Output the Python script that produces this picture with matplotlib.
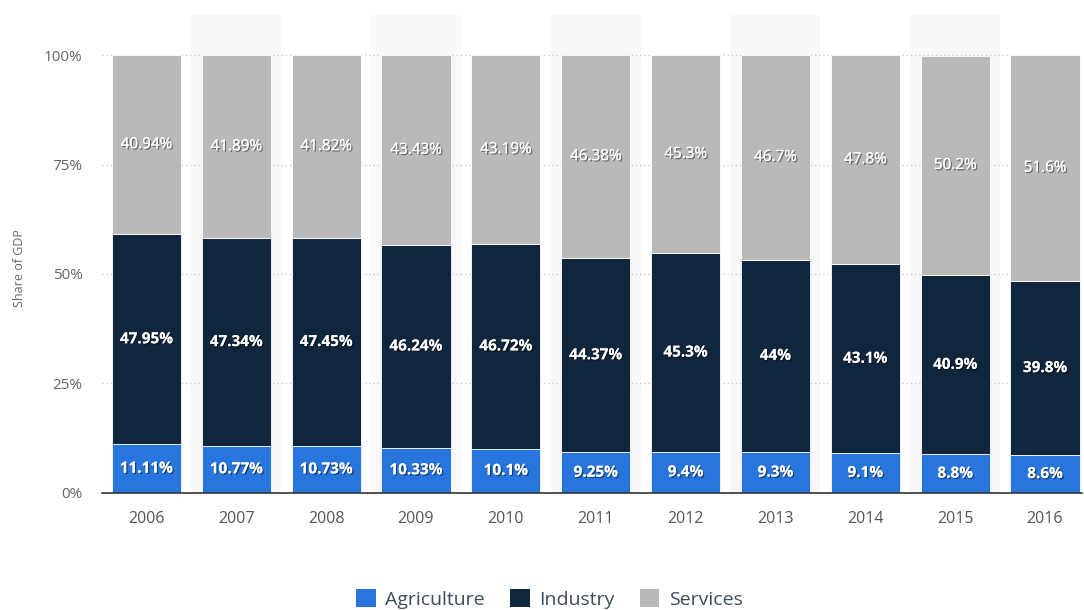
import matplotlib
matplotlib.use("Agg")
import matplotlib.pyplot as plt
import matplotlib.patheffects as pe
import numpy as np

plt.rcParams['font.family'] = ['Open Sans', 'DejaVu Sans']

years = ['2006', '2007', '2008', '2009', '2010', '2011', '2012', '2013', '2014', '2015', '2016']
agriculture = [11.11, 10.77, 10.73, 10.33, 10.1, 9.25, 9.4, 9.3, 9.1, 8.8, 8.6]
industry = [47.95, 47.34, 47.45, 46.24, 46.72, 44.37, 45.3, 44, 43.1, 40.9, 39.8]
services = [40.94, 41.89, 41.82, 43.43, 43.19, 46.38, 45.3, 46.7, 47.8, 50.2, 51.6]

agri_labels = ['11.11%', '10.77%', '10.73%', '10.33%', '10.1%', '9.25%', '9.4%', '9.3%', '9.1%', '8.8%', '8.6%']
ind_labels = ['47.95%', '47.34%', '47.45%', '46.24%', '46.72%', '44.37%', '45.3%', '44%', '43.1%', '40.9%', '39.8%']
serv_labels = ['40.94%', '41.89%', '41.82%', '43.43%', '43.19%', '46.38%', '45.3%', '46.7%', '47.8%', '50.2%', '51.6%']

c_agri = '#2876dd'
c_ind = '#10263d'
c_serv = '#b9b9b9'

fig = plt.figure(figsize=(10.84, 6.10), dpi=100)
ax = fig.add_axes([0.094, 0.192, 0.904, 0.783])

x = np.arange(len(years))

# alternating light column shading
for i in x:
    if i % 2 == 1:
        ax.axvspan(i - 0.5, i + 0.5, color='#f8f8f8', zorder=0, lw=0)

for yv in [25, 50, 75, 100]:
    ax.axhline(yv, color='#cccccc', lw=1, ls=(0, (1, 2)), zorder=1)

w = 0.77
b1 = ax.bar(x, agriculture, w, color=c_agri, zorder=2, edgecolor='white', linewidth=0.6)
bottom2 = np.array(agriculture)
b2 = ax.bar(x, industry, w, bottom=bottom2, color=c_ind, zorder=2, edgecolor='white', linewidth=0.6)
bottom3 = bottom2 + np.array(industry)
b3 = ax.bar(x, services, w, bottom=bottom3, color=c_serv, zorder=2, edgecolor='white', linewidth=0.6)

shadow = [pe.withSimplePatchShadow(offset=(1, -1), shadow_rgbFace='black', alpha=0.45), pe.Normal()]

for i in x:
    ax.text(i, agriculture[i] / 2, agri_labels[i], ha='center', va='center', color='white',
            fontsize=11, fontweight='bold', zorder=3, path_effects=shadow)
    ax.text(i, bottom2[i] + industry[i] / 2, ind_labels[i], ha='center', va='center', color='white',
            fontsize=11, fontweight='bold', zorder=3, path_effects=shadow)
    ax.text(i, bottom3[i] + services[i] / 2, serv_labels[i], ha='center', va='center', color='white',
            fontsize=11, zorder=3, path_effects=shadow)

ax.set_xlim(-0.495, 10.41)
ax.set_ylim(0, 109.1)
ax.set_xticks(x)
ax.set_xticklabels(years, fontsize=11.5, color='#555555')
ax.set_yticks([0, 25, 50, 75, 100])
ax.set_yticklabels(['0%', '25%', '50%', '75%', '100%'], fontsize=11, color='#666666')
ax.tick_params(axis='x', length=0, pad=13)
ax.tick_params(axis='y', length=0, pad=14)

for s in ['top', 'right', 'left']:
    ax.spines[s].set_visible(False)
ax.spines['bottom'].set_color('#333333')
ax.spines['bottom'].set_linewidth(1.2)
ax.spines['bottom'].set_zorder(4)

fig.text(0.018, 0.56, 'Share of GDP', rotation=90, ha='center', va='center', fontsize=9, color='#666666')

leg = fig.legend([b1, b2, b3], ['Agriculture', 'Industry', 'Services'], loc='center',
                 bbox_to_anchor=(0.507, 0.018), ncol=3, frameon=False, fontsize=14,
                 handlelength=1.0, handleheight=1.0, handletextpad=0.5, columnspacing=1.3)
for t in leg.get_texts():
    t.set_color('#3d4b5c')
for h in leg.legend_handles:
    h.set_edgecolor('none')

fig.savefig('out.png', dpi=100)
